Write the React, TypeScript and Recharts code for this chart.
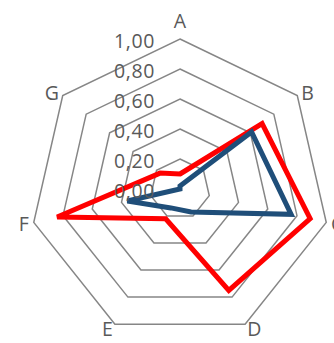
import { RadarChart, Radar, PolarGrid, PolarAngleAxis, PolarRadiusAxis } from "recharts";

const categories = ["A", "B", "C", "D", "E", "F", "G"];
const redValues = [0.1, 0.7, 0.89, 0.75, 0.22, 0.84, 0.17];
const blueValues = [0.02, 0.61, 0.76, 0.17, 0.14, 0.36, 0.0];
const radiusTicks = [0, 0.2, 0.4, 0.6, 0.8, 1.0];

const CX = 180;
const CY = 189;
const R = 150;
const FONT = "'Open Sans', sans-serif";
const TEXT = "#595959";

const data = categories.map((name, i) => ({ name, red: redValues[i], blue: blueValues[i] }));

const fmt = (v: number) => v.toFixed(2).replace(".", ",");

const AngleTick = (props: any) => {
  const { x, y, payload } = props;
  const dx = x - CX;
  const dy = y - CY;
  const len = Math.sqrt(dx * dx + dy * dy) || 1;
  const px = CX + (dx / len) * (R + 5);
  const py = CY + (dy / len) * (R + 5);
  let anchor = "middle";
  if (dx / len > 0.01) anchor = "start";
  else if (dx / len < -0.01) anchor = "end";
  const ty = anchor === "middle" ? py - 14 : py;
  return (
    <text x={px} y={ty} textAnchor={anchor} dominantBaseline="central" fill={TEXT} fontSize={19.5} fontFamily={FONT}>
      {payload.value}
    </text>
  );
};

const RadiusTick = (props: any) => {
  const { x, y, payload } = props;
  return (
    <text x={x - 25} y={y + 1} textAnchor="end" dominantBaseline="central" fill={TEXT} fontSize={19.5} fontFamily={FONT} letterSpacing={0.6}>
      {fmt(payload.value)}
    </text>
  );
};

const App = () => {
  return (
    <div style={{ position: "absolute", left: 0, top: 0, width: 334, height: 343, background: "#fff" }}>
      <RadarChart width={334} height={343} data={data} cx={CX} cy={CY} outerRadius={R} margin={{ top: 0, right: 0, bottom: 0, left: 0 }}>
        <PolarGrid gridType="polygon" radialLines={false} stroke="#868686" strokeWidth={1.5} />
        <PolarAngleAxis dataKey="name" tick={<AngleTick />} tickLine={false} axisLine={false} />
        <PolarRadiusAxis
          angle={90}
          domain={[0, 1]}
          ticks={radiusTicks}
          tick={<RadiusTick />}
          axisLine={false}
          tickLine={false}
        />
        <Radar dataKey="red" stroke="#ff0000" strokeWidth={5} fill="none" fillOpacity={0} isAnimationActive={false} />
        <Radar dataKey="blue" stroke="#1f4e79" strokeWidth={5} fill="none" fillOpacity={0} isAnimationActive={false} />
      </RadarChart>
    </div>
  );
};

export default App;
